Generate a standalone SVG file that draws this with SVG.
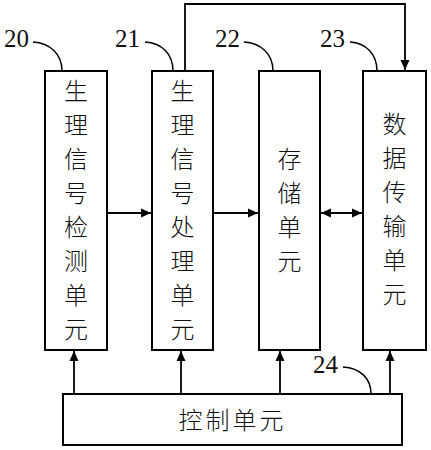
<svg xmlns="http://www.w3.org/2000/svg" width="431" height="450" viewBox="0 0 431 450">
<style>
.box{fill:#fff;stroke:#000;stroke-width:2}
.cn{font-family:"Noto Sans CJK SC",sans-serif;font-size:24px;font-weight:300;fill:#111;text-anchor:middle;dominant-baseline:central}
.num{font-family:"Liberation Serif",serif;font-size:25px;fill:#111}
.ln{fill:none;stroke:#000;stroke-width:1.8}
.ld{fill:none;stroke:#000;stroke-width:1.5}
</style>
<defs>
<marker id="ah" viewBox="0 0 10 10" refX="10" refY="5" markerWidth="10" markerHeight="10" markerUnits="userSpaceOnUse" orient="auto-start-reverse">
<path d="M0,0.5 L10,5 L0,9.5 Z" fill="#000"/>
</marker>
</defs>
<g id="connectors">
<path class="ln" d="M107,213 H151" marker-end="url(#ah)"/>
<path class="ln" d="M213,213 H258" marker-end="url(#ah)"/>
<path class="ln" d="M321,213 H362" marker-start="url(#ah)" marker-end="url(#ah)"/>
<path class="ln" d="M185,71 V4 H405 V70" marker-end="url(#ah)"/>
<path class="ln" d="M74,394 V351" marker-end="url(#ah)"/>
<path class="ln" d="M181,394 V351" marker-end="url(#ah)"/>
<path class="ln" d="M280,394 V351" marker-end="url(#ah)"/>
<path class="ln" d="M390,394 V351" marker-end="url(#ah)"/>
<path class="ld" d="M33,42 C50,43 62,54 62,71"/>
<path class="ld" d="M145,42 C162,43 173,54 173,71"/>
<path class="ld" d="M244,42 C261,43 273,54 273,71"/>
<path class="ld" d="M350,42 C366,43 377,54 377,71"/>
<path class="ld" d="M343,367 C360,368 371,378 371,394"/>
</g>
<g id="n20">
<rect class="box" x="45" y="71" width="62" height="279"/>
<text class="cn" x="76" y="89">生</text>
<text class="cn" x="76" y="123">理</text>
<text class="cn" x="76" y="157">信</text>
<text class="cn" x="76" y="191">号</text>
<text class="cn" x="76" y="225">检</text>
<text class="cn" x="76" y="259">测</text>
<text class="cn" x="76" y="293">单</text>
<text class="cn" x="76" y="327">元</text>
<text class="num" x="4" y="47">20</text>
</g>
<g id="n21">
<rect class="box" x="152" y="71" width="61" height="279"/>
<text class="cn" x="182.5" y="89">生</text>
<text class="cn" x="182.5" y="123">理</text>
<text class="cn" x="182.5" y="157">信</text>
<text class="cn" x="182.5" y="191">号</text>
<text class="cn" x="182.5" y="225">处</text>
<text class="cn" x="182.5" y="259">理</text>
<text class="cn" x="182.5" y="293">单</text>
<text class="cn" x="182.5" y="327">元</text>
<text class="num" x="115" y="47">21</text>
</g>
<g id="n22">
<rect class="box" x="259" y="71" width="61" height="279"/>
<text class="cn" x="289.5" y="157">存</text>
<text class="cn" x="289.5" y="191">储</text>
<text class="cn" x="289.5" y="225">单</text>
<text class="cn" x="289.5" y="259">元</text>
<text class="num" x="215" y="47">22</text>
</g>
<g id="n23">
<rect class="box" x="363" y="71" width="63" height="279"/>
<text class="cn" x="394.5" y="122">数</text>
<text class="cn" x="394.5" y="156">据</text>
<text class="cn" x="394.5" y="190">传</text>
<text class="cn" x="394.5" y="224">输</text>
<text class="cn" x="394.5" y="258">单</text>
<text class="cn" x="394.5" y="292">元</text>
<text class="num" x="320" y="47">23</text>
</g>
<g id="n24">
<rect class="box" x="63" y="394" width="339" height="51"/>
<text class="cn" x="232.5" y="418" letter-spacing="3">控制单元</text>
<text class="num" x="313" y="373">24</text>
</g>
</svg>
